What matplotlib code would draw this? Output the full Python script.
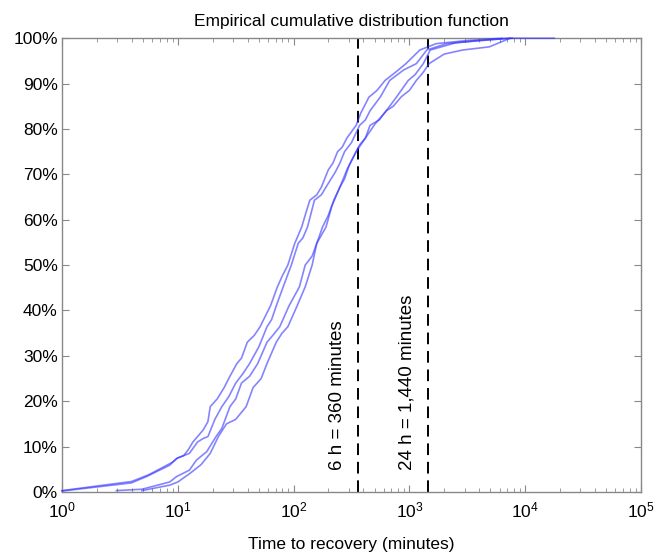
import matplotlib
matplotlib.use("Agg")
import matplotlib.pyplot as plt
import numpy as np
from matplotlib.ticker import LogLocator, NullFormatter

plt.rcParams['font.family'] = ['Liberation Sans', 'DejaVu Sans']

title = "Empirical cumulative distribution function"
xlabel = "Time to recovery (minutes)"
ytick_vals = [0, 10, 20, 30, 40, 50, 60, 70, 80, 90, 100]
ytick_labels = [f"{v}%" for v in ytick_vals]

# Curves: x as log10(minutes), y in percent
a_logx = [0, 0.60, 0.73, 0.93, 0.99, 1.05, 1.09, 1.13, 1.22, 1.26, 1.28, 1.34, 1.40, 1.45, 1.51, 1.55, 1.60, 1.66, 1.71, 1.80,
          1.86, 1.90, 1.95, 2.01, 2.07, 2.10, 2.14, 2.20, 2.24, 2.30, 2.34, 2.38, 2.42, 2.46, 2.54, 2.58, 2.65, 2.72, 2.79,
          2.88, 2.97, 3.09, 3.23, 3.50, 3.80]
a_y = [0.2, 2, 3.4, 5.9, 7.4, 8.0, 9.3, 11, 13.7, 15.5, 18.8, 20.5, 23, 25.5, 28.3, 29.5, 33, 34.5, 36.4, 41,
       45.2, 47.5, 50, 54.8, 58.4, 61, 64.3, 65.5, 67.2, 71, 72.5, 75, 76, 78, 80.8, 83.5, 87, 88.5, 90.7,
       92.5, 94.4, 97.4, 98.8, 99.5, 100]

b_logx = [0, 0.60, 0.75, 0.95, 1.00, 1.10, 1.17, 1.22, 1.26, 1.32, 1.38, 1.44, 1.50, 1.56, 1.62, 1.70, 1.77, 1.81, 1.85, 1.91,
          1.98, 2.04, 2.08, 2.12, 2.18, 2.24, 2.28, 2.36, 2.40, 2.44, 2.50, 2.57, 2.62, 2.66, 2.75, 2.83, 2.95, 3.06,
          3.15, 3.32, 3.60, 3.89]
b_y = [0.3, 2.3, 3.8, 6.5, 7.5, 8.5, 11, 11.8, 12.2, 16, 18.8, 21, 24, 26, 28.3, 32, 36.4, 38, 41, 45.2,
       50, 54.8, 56, 58.4, 64.3, 65.5, 67.2, 70.5, 72.5, 75, 77, 80.8, 82, 84, 87.1, 90.7, 93, 94.4,
       97.4, 98.8, 99.5, 100]

c_logx = [0.47, 0.69, 0.93, 0.99, 1.10, 1.16, 1.25, 1.33, 1.38, 1.45, 1.50, 1.55, 1.62, 1.69, 1.77, 1.82, 1.88, 1.96, 2.05,
          2.10, 2.16, 2.20, 2.25, 2.30, 2.35, 2.40, 2.44, 2.48, 2.57, 2.62, 2.66, 2.74, 2.80, 2.86, 2.93, 3.00, 3.06,
          3.12, 3.17, 3.30, 3.46, 3.69, 3.87]
c_y = [0.3, 0.6, 2.2, 3.4, 4.8, 7, 8.9, 12.2, 14, 18.8, 20.5, 24, 25.5, 28.3, 33, 34.5, 36.4, 41, 45.2,
       50, 52, 54.8, 58.4, 61, 64.5, 67.2, 69, 72, 76.5, 78, 80.8, 82, 84, 85, 87.1, 88.5, 90.7,
       92.5, 94.4, 96.5, 97.4, 98.1, 100]

d_logx = [0.69, 0.93, 1.00, 1.10, 1.20, 1.28, 1.35, 1.42, 1.50, 1.59, 1.65, 1.72, 1.77, 1.85, 1.90, 1.95, 2.03, 2.10, 2.16,
          2.20, 2.28, 2.33, 2.40, 2.46, 2.50, 2.54, 2.62, 2.70, 2.75, 2.80, 2.89, 2.99, 3.05, 3.12, 3.18, 3.40, 3.85, 4.25]
d_y = [0.3, 1.5, 2.2, 4, 6, 8.5, 12.2, 15, 16, 18.8, 23, 25, 28.3, 33, 35, 36.4, 41, 45.2, 50,
       54.8, 58.4, 63, 67.2, 71, 73, 75, 78, 81, 82.5, 84, 87.1, 90.7, 92, 94.4, 97.4, 99, 100, 100]

curves = [(a_logx, a_y), (b_logx, b_y), (c_logx, c_y), (d_logx, d_y)]

marker_x = [360, 1440]
marker_text = ["6 h = 360 minutes", "24 h = 1,440 minutes"]

fig = plt.figure(figsize=(6.67, 5.54), dpi=100)
ax = fig.add_axes([0.093, 0.112, 0.868, 0.819])

for lx, ys in curves:
    ax.plot(10 ** np.asarray(lx), ys, color=(0.2, 0.2, 1.0), alpha=0.6, lw=1.2,
            zorder=3, clip_on=False)

for mx, txt in zip(marker_x, marker_text):
    ax.axvline(mx, color='black', lw=1.4, ls=(0, (6, 3.5)))
    ax.text(mx * 0.78, 4.8, txt, rotation=90, ha='right', va='bottom', fontsize=13.5)

ax.set_xscale('log')
ax.set_xlim(1, 1e5)
ax.set_ylim(0, 100)
ax.set_yticks(ytick_vals)
ax.set_yticklabels(ytick_labels)
ax.xaxis.set_major_locator(LogLocator(base=10, numticks=10))
ax.xaxis.set_minor_locator(LogLocator(base=10, subs=range(2, 10), numticks=50))
ax.xaxis.set_minor_formatter(NullFormatter())

for s in ax.spines.values():
    s.set_color('#888888')
    s.set_linewidth(1.0)
ax.tick_params(which='both', direction='in', top=True, right=True, color='#888888', labelsize=12.5)
ax.tick_params(which='major', length=5, pad=6)
ax.tick_params(which='minor', length=3)
ax.tick_params(axis='y', pad=3)

ax.set_title(title, fontsize=12.5, pad=9)
ax.set_xlabel(xlabel, fontsize=12.5, labelpad=12)

fig.savefig("out.png", dpi=100)
